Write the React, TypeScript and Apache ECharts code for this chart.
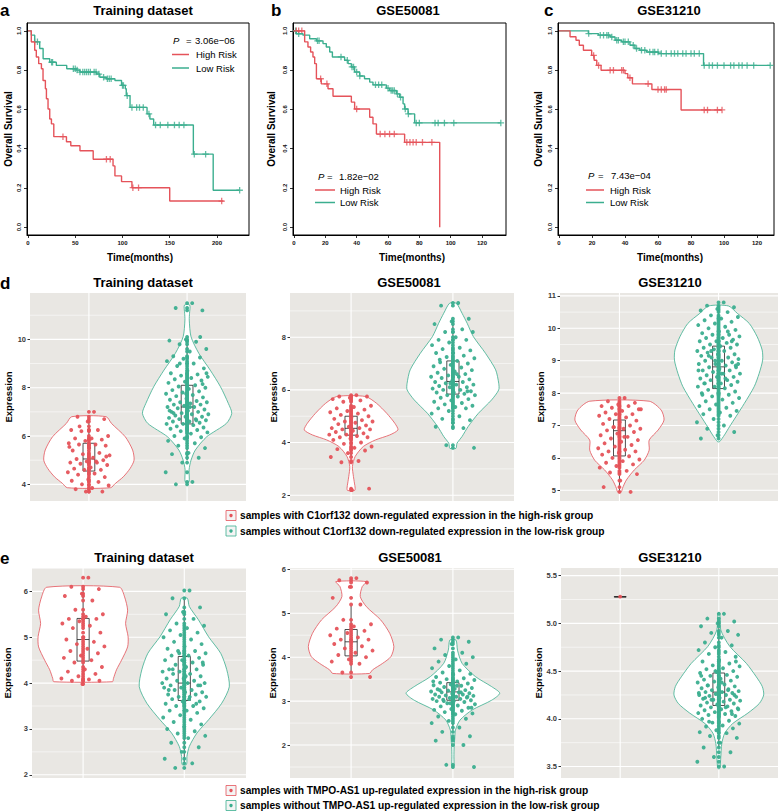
import React, { useEffect, useRef } from "react";
import * as echarts from "echarts";

const RED = "#E5535A";
const TEAL = "#3BAE8F";
const FONT = "'Liberation Sans', Arial, Helvetica, sans-serif";

// ---------------- Kaplan-Meier data (time in months, survival) ----------------
const kmTitles = ["Training dataset", "GSE50081", "GSE31210"];
const kmPValues = ["3.06e\u221206", "1.82e\u221202", "7.43e\u221204"];
const kmXTicksA = [0, 50, 100, 150, 200];
const kmXTicksBC = [0, 20, 40, 60, 80, 100, 120];
const kmYTicks = [0, 0.2, 0.4, 0.6, 0.8, 1.0];
const legendNames = ["High Risk", "Low Risk"];

const kmAHigh = [[0, 1], [3.5, 0.944], [7.1, 0.901], [8.8, 0.867], [11.3, 0.833], [14.2, 0.807], [15.9, 0.747], [18.4, 0.705], [19.5, 0.654], [21.2, 0.602], [23, 0.551], [24.8, 0.526], [27.3, 0.461], [40.7, 0.435], [45.3, 0.415], [55, 0.389], [69, 0.346], [90, 0.312], [92, 0.261], [99, 0.232], [110, 0.201], [150, 0.133], [207, 0.133]];
const kmALow = [[0, 1], [3.5, 0.978], [7.1, 0.944], [12.4, 0.91], [16, 0.858], [23, 0.84], [30, 0.824], [41, 0.807], [51, 0.8], [55, 0.79], [72.6, 0.78], [76, 0.764], [83, 0.756], [92, 0.747], [99, 0.722], [103, 0.705], [104, 0.67], [108, 0.61], [126, 0.577], [129, 0.551], [133, 0.52], [175, 0.372], [196, 0.188], [224, 0.188]];
const kmACensHigh = [7, 37, 83, 87, 111, 117, 205];
const kmACensLow = [10, 25, 26, 48, 50, 52, 55, 58, 60, 62, 64, 66, 70, 72, 75, 80, 84, 86, 88, 100, 101, 105, 110, 115, 118, 122, 128, 135, 140, 148, 155, 160, 165, 176, 188, 224];

const kmBHigh = [[0, 1], [6.8, 0.944], [8.9, 0.918], [10.6, 0.892], [12.1, 0.867], [13.2, 0.833], [14.3, 0.756], [17.4, 0.73], [21.7, 0.705], [24.9, 0.667], [36.6, 0.637], [38.7, 0.602], [48.3, 0.56], [50.4, 0.526], [52.6, 0.474], [70.6, 0.432], [93, 0.0]];
const kmBLow = [[0, 1], [1.5, 0.985], [5.7, 0.978], [10, 0.96], [14.3, 0.949], [18.5, 0.935], [20.6, 0.918], [22.8, 0.892], [24.5, 0.867], [32.3, 0.85], [34.5, 0.833], [36.6, 0.816], [38.7, 0.79], [41.9, 0.77], [45, 0.756], [48.3, 0.739], [50.4, 0.725], [58.9, 0.708], [61, 0.696], [65.3, 0.679], [67.4, 0.662], [69.6, 0.628], [70.6, 0.602], [72.8, 0.577], [77, 0.531], [132, 0.531]];
const kmBCensHigh = [1.5, 3, 5, 17, 21, 40, 55, 58, 61, 64, 72, 74, 76, 78, 82, 88];
const kmBCensLow = [1, 3, 15, 16, 30, 34, 37, 38, 40, 42, 52, 54, 56, 60, 62, 63, 64, 66, 68, 71, 73, 78, 80, 90, 92, 96, 102, 132];

const kmCHigh = [[0, 1], [6.7, 0.97], [10.3, 0.952], [12.3, 0.927], [14.8, 0.901], [19.8, 0.875], [21.3, 0.85], [22.9, 0.824], [25.5, 0.799], [40, 0.782], [41.7, 0.761], [44.5, 0.73], [56.3, 0.701], [74, 0.597], [98.8, 0.597]];
const kmCLow = [[0, 1], [17.8, 0.986], [23.9, 0.978], [31, 0.969], [34, 0.952], [38, 0.944], [43, 0.927], [46, 0.91], [49, 0.901], [53, 0.892], [60.3, 0.884], [87.6, 0.824], [128, 0.824]];
const kmCCensHigh = [21, 24, 31, 33, 38, 39, 43, 54, 60, 62, 64, 65, 88, 90, 96, 98.8];
const kmCCensLow = [18, 25, 27, 29, 30, 32, 35, 36, 39, 40, 42, 45, 47, 50, 52, 55, 57, 58, 60, 62, 65, 68, 70, 72, 75, 77, 80, 82, 85, 88, 91, 93, 96, 100, 104, 106, 109, 111, 114, 118, 128];

// ---------------- Violin data ----------------
const violinTitles = ["Training dataset", "GSE50081", "GSE31210", "Training dataset", "GSE50081", "GSE31210"];
const groupPositions = [1, 2];

// expression values per sample
const d1Red = [7.0, 6.8, 6.7, 6.6, 6.25, 6.25, 6.2, 6.0, 5.9, 5.9, 5.85, 5.8, 5.7, 5.65, 5.65, 5.6, 5.5, 5.4, 5.3, 5.25, 5.2, 5.1, 5.05, 5.0, 4.95, 4.9, 4.9, 4.85, 4.8, 4.7, 4.65, 4.6, 4.6, 4.5, 4.45, 4.4, 4.3, 4.2, 4.15, 4.1, 4.0, 3.95, 3.85, 3.8, 3.7, 3.7, 5.55, 4.95, 6.4, 5.15];
const d1Teal = [11.5, 11.3, 11.2, 10.0, 9.95, 9.9, 9.8, 9.6, 9.5, 9.3, 9.25, 9.2, 9.1, 9.0, 8.9, 8.8, 8.7, 8.6, 8.55, 8.5, 8.45, 8.4, 8.35, 8.3, 8.25, 8.2, 8.1, 8.05, 8.0, 7.95, 7.9, 7.85, 7.8, 7.75, 7.7, 7.65, 7.6, 7.55, 7.5, 7.45, 7.4, 7.4, 7.35, 7.3, 7.3, 7.25, 7.2, 7.2, 7.15, 7.1, 7.05, 7.0, 7.0, 6.95, 6.9, 6.9, 6.85, 6.8, 6.8, 6.75, 6.7, 6.7, 6.65, 6.6, 6.6, 6.55, 6.5, 6.5, 6.45, 6.4, 6.35, 6.3, 6.3, 6.25, 6.2, 6.15, 6.1, 6.0, 5.95, 5.9, 5.8, 5.7, 5.6, 5.5, 5.3, 5.25, 5.1, 4.9, 4.5, 4.1, 4.0, 8.15, 7.75, 7.05, 6.65, 9.0, 8.6, 7.2, 6.95, 10.1];
const d2Red = [5.8, 5.75, 5.75, 5.7, 5.65, 5.6, 5.55, 5.4, 5.35, 5.3, 5.25, 5.2, 5.15, 5.1, 5.05, 5.0, 4.95, 4.9, 4.85, 4.8, 4.8, 4.75, 4.7, 4.65, 4.6, 4.55, 4.55, 4.5, 4.5, 4.45, 4.4, 4.35, 4.3, 4.3, 4.25, 4.2, 4.2, 4.15, 4.1, 4.0, 3.95, 3.85, 3.8, 3.75, 3.7, 3.6, 3.45, 3.3, 3.25, 2.25, 2.2];
const d2Teal = [9.3, 9.2, 8.7, 8.6, 8.5, 8.3, 8.2, 8.2, 8.0, 7.9, 7.9, 7.8, 7.7, 7.6, 7.55, 7.5, 7.4, 7.4, 7.3, 7.25, 7.2, 7.1, 7.05, 7.0, 6.95, 6.9, 6.85, 6.8, 6.75, 6.7, 6.65, 6.6, 6.55, 6.5, 6.5, 6.45, 6.4, 6.35, 6.3, 6.3, 6.25, 6.2, 6.2, 6.15, 6.1, 6.1, 6.05, 6.0, 6.0, 5.95, 5.9, 5.9, 5.85, 5.8, 5.8, 5.75, 5.7, 5.65, 5.6, 5.55, 5.5, 5.45, 5.4, 5.35, 5.3, 5.3, 5.2, 5.1, 5.0, 4.9, 4.85, 4.75, 4.6, 4.55, 3.9, 3.8, 6.6, 7.15, 5.95, 6.25];
const d3Red = [7.85, 7.75, 7.7, 7.65, 7.6, 7.6, 7.55, 7.5, 7.45, 7.4, 7.35, 7.35, 7.3, 7.25, 7.2, 7.15, 7.1, 7.05, 7.0, 6.95, 6.9, 6.9, 6.85, 6.8, 6.75, 6.7, 6.65, 6.6, 6.55, 6.5, 6.45, 6.4, 6.35, 6.3, 6.25, 6.2, 6.2, 6.15, 6.1, 6.05, 6.0, 5.95, 5.9, 5.85, 5.8, 5.75, 5.7, 5.6, 5.55, 5.5, 5.3, 5.1, 4.95, 6.95, 7.5, 6.65];
const d3Teal = [10.8, 10.7, 10.65, 10.6, 10.55, 10.5, 10.4, 10.35, 10.3, 10.25, 10.2, 10.15, 10.1, 10.05, 10.0, 9.95, 9.9, 9.85, 9.8, 9.8, 9.75, 9.7, 9.7, 9.65, 9.6, 9.6, 9.55, 9.5, 9.5, 9.45, 9.4, 9.4, 9.35, 9.3, 9.3, 9.25, 9.2, 9.2, 9.15, 9.1, 9.1, 9.05, 9.0, 9.0, 8.95, 8.9, 8.9, 8.85, 8.8, 8.8, 8.75, 8.7, 8.7, 8.65, 8.6, 8.6, 8.55, 8.5, 8.5, 8.45, 8.4, 8.4, 8.35, 8.3, 8.3, 8.25, 8.2, 8.2, 8.15, 8.1, 8.05, 8.0, 8.0, 7.95, 7.9, 7.85, 7.8, 7.75, 7.7, 7.65, 7.6, 7.55, 7.5, 7.45, 7.4, 7.35, 7.3, 7.2, 7.1, 7.0, 6.9, 6.8, 6.7, 6.6, 9.9, 9.3, 8.9, 8.6, 8.3, 9.6, 9.0, 8.7, 8.45, 9.15, 8.85, 10.3, 7.95];
const e1Red = [6.3, 6.1, 6.05, 5.95, 5.9, 5.8, 5.6, 5.5, 5.45, 5.4, 5.4, 5.35, 5.3, 5.25, 5.2, 5.1, 5.0, 4.95, 4.9, 4.85, 4.8, 4.75, 4.7, 4.65, 4.6, 4.55, 4.5, 4.45, 4.35, 4.3, 4.25, 4.2, 4.15, 4.1, 4.08, 4.05, 4.05, 3.98];
const e1Teal = [6.02, 5.85, 5.65, 5.55, 5.5, 5.4, 5.3, 5.25, 5.2, 5.15, 5.1, 5.05, 5.0, 4.95, 4.9, 4.85, 4.8, 4.75, 4.7, 4.7, 4.65, 4.6, 4.6, 4.55, 4.5, 4.5, 4.45, 4.4, 4.4, 4.35, 4.3, 4.3, 4.25, 4.25, 4.2, 4.2, 4.15, 4.1, 4.1, 4.05, 4.05, 4.0, 4.0, 3.95, 3.95, 3.9, 3.9, 3.85, 3.85, 3.8, 3.8, 3.75, 3.75, 3.7, 3.7, 3.65, 3.65, 3.6, 3.6, 3.55, 3.5, 3.5, 3.45, 3.4, 3.4, 3.35, 3.3, 3.25, 3.2, 3.15, 3.1, 3.05, 3.0, 2.95, 2.9, 2.85, 2.8, 2.7, 2.6, 2.5, 2.35, 2.25, 2.15, 4.45, 4.15, 3.85, 3.55, 4.65, 4.0, 3.7, 4.3, 3.95];
const e2Red = [5.8, 5.75, 5.7, 5.6, 5.35, 5.2, 4.85, 4.75, 4.7, 4.65, 4.6, 4.55, 4.5, 4.45, 4.4, 4.4, 4.35, 4.3, 4.25, 4.2, 4.15, 4.1, 4.05, 4.0, 3.95, 3.9, 3.85, 3.65, 3.55];
const e2Teal = [4.45, 4.4, 4.35, 4.3, 4.2, 4.1, 4.05, 4.0, 3.95, 3.9, 3.85, 3.8, 3.75, 3.7, 3.65, 3.62, 3.6, 3.55, 3.52, 3.5, 3.48, 3.45, 3.42, 3.4, 3.38, 3.36, 3.35, 3.32, 3.3, 3.28, 3.27, 3.25, 3.24, 3.22, 3.2, 3.2, 3.18, 3.17, 3.15, 3.15, 3.13, 3.12, 3.1, 3.1, 3.08, 3.07, 3.05, 3.05, 3.03, 3.02, 3.0, 3.0, 2.98, 2.95, 2.93, 2.9, 2.88, 2.85, 2.82, 2.8, 2.78, 2.75, 2.72, 2.7, 2.65, 2.6, 2.55, 2.5, 2.4, 2.3, 2.2, 2.15, 2.1, 2.0, 1.55, 1.5, 3.35, 3.25, 3.1, 2.95, 3.45, 3.2, 3.0, 2.85];
const e3Red = [5.28];
const e3Teal = [5.1, 5.05, 5.02, 5.0, 4.97, 4.92, 4.9, 4.88, 4.85, 4.8, 4.77, 4.75, 4.72, 4.7, 4.68, 4.65, 4.62, 4.6, 4.58, 4.56, 4.55, 4.53, 4.52, 4.5, 4.49, 4.48, 4.46, 4.45, 4.44, 4.42, 4.41, 4.4, 4.39, 4.38, 4.36, 4.35, 4.34, 4.33, 4.32, 4.31, 4.3, 4.29, 4.28, 4.28, 4.27, 4.26, 4.25, 4.25, 4.24, 4.23, 4.22, 4.21, 4.2, 4.2, 4.19, 4.18, 4.17, 4.16, 4.15, 4.14, 4.13, 4.12, 4.11, 4.1, 4.09, 4.08, 4.07, 4.06, 4.05, 4.04, 4.03, 4.02, 4.0, 3.98, 3.96, 3.95, 3.93, 3.92, 3.9, 3.88, 3.86, 3.85, 3.82, 3.8, 3.75, 3.7, 3.65, 3.6, 3.55, 3.5, 4.35, 4.25, 4.15, 4.45, 4.3, 4.2, 4.1, 4.38, 4.22, 4.05, 4.5, 4.27, 4.12, 3.97, 4.6];

// violin outlines: [expression, half width]
const d1RedViolin = [[6.8, 0.175], [6.52, 0.23], [5.97, 0.37], [5.42, 0.445], [5.0, 0.46], [4.66, 0.42], [4.31, 0.35], [4.04, 0.27], [3.86, 0.22]];
const d1TealViolin = [[11.42, 0.027], [11.08, 0.025], [10.8, 0.022], [10.11, 0.04], [9.42, 0.12], [8.73, 0.235], [8.04, 0.34], [7.35, 0.42], [6.94, 0.455], [6.52, 0.4], [5.97, 0.2], [5.42, 0.084], [5.0, 0.04], [4.6, 0.02], [4.11, 0.02]];
const d2RedViolin = [[5.75, 0.14], [5.49, 0.25], [5.11, 0.35], [4.73, 0.43], [4.48, 0.46], [4.29, 0.38], [4.1, 0.24], [3.85, 0.12], [3.47, 0.04], [3.09, 0.013], [2.71, 0.023], [2.46, 0.033], [2.27, 0.04], [2.18, 0.035]];
const d2TealViolin = [[9.29, 0.033], [8.91, 0.09], [8.53, 0.14], [8.03, 0.2], [7.39, 0.32], [6.76, 0.42], [6.25, 0.45], [6.0, 0.45], [5.62, 0.38], [5.11, 0.25], [4.61, 0.15], [4.23, 0.09], [3.97, 0.04], [3.78, 0.03]];
const d3RedViolin = [[7.75, 0.3], [7.48, 0.42], [7.17, 0.45], [6.86, 0.39], [6.55, 0.3], [6.24, 0.3], [5.93, 0.25], [5.63, 0.15], [5.32, 0.07], [5.06, 0.03], [4.96, 0.02]];
const d3TealViolin = [[10.69, 0.1], [10.46, 0.19], [10.15, 0.31], [9.74, 0.39], [9.33, 0.44], [9.02, 0.445], [8.61, 0.41], [8.2, 0.36], [7.68, 0.26], [7.27, 0.175], [6.96, 0.11], [6.71, 0.06], [6.5, 0.01]];
const e1RedViolin = [[6.09, 0.36], [5.88, 0.41], [5.59, 0.44], [5.3, 0.42], [5.01, 0.445], [4.79, 0.44], [4.5, 0.38], [4.29, 0.33], [4.1, 0.3], [4.03, 0.29]];
const e1TealViolin = [[5.85, 0.03], [5.67, 0.05], [5.38, 0.14], [5.01, 0.24], [4.65, 0.36], [4.29, 0.42], [3.92, 0.445], [3.56, 0.37], [3.2, 0.24], [2.91, 0.125], [2.62, 0.05], [2.4, 0.026], [2.29, 0.026], [2.22, 0.02]];
const e2RedViolin = [[5.72, 0.15], [5.61, 0.11], [5.38, 0.09], [5.15, 0.15], [4.85, 0.29], [4.54, 0.38], [4.24, 0.42], [4.01, 0.39], [3.86, 0.31], [3.71, 0.21], [3.63, 0.18]];
const e2TealViolin = [[4.39, 0.03], [4.16, 0.045], [3.86, 0.09], [3.56, 0.22], [3.33, 0.38], [3.18, 0.46], [3.02, 0.38], [2.8, 0.19], [2.57, 0.07], [2.34, 0.025], [2.15, 0.018], [1.96, 0.012], [1.73, 0.01], [1.51, 0.01]];
const e3RedViolin: number[][] = [];
const e3TealViolin = [[5.11, 0.01], [4.93, 0.02], [4.76, 0.11], [4.58, 0.28], [4.44, 0.38], [4.34, 0.44], [4.25, 0.455], [4.16, 0.41], [4.06, 0.295], [3.95, 0.14], [3.85, 0.06], [3.74, 0.03], [3.6, 0.02], [3.48, 0.01]];

// box plot stats: [lower whisker, q1, median, q3, upper whisker]
const d1RedBox = [3.7, 4.55, 5.05, 5.7, 6.8];
const d1TealBox = [5.0, 6.5, 7.2, 8.1, 10.1];
const d2RedBox = [3.47, 4.28, 4.54, 5.0, 5.75];
const d2TealBox = [4.55, 5.84, 6.32, 7.1, 8.6];
const d3RedBox = [4.95, 6.06, 6.84, 7.17, 7.75];
const d3TealBox = [6.6, 8.14, 8.81, 9.45, 10.7];
const e1RedBox = [4.03, 4.48, 4.95, 5.41, 6.09];
const e1TealBox = [2.25, 3.62, 4.0, 4.58, 5.82];
const e2RedBox = [3.65, 4.03, 4.35, 4.63, 5.17];
const e2TealBox = [2.34, 3.02, 3.21, 3.42, 4.0];
const e3RedBox = [5.28, 5.28, 5.28, 5.28, 5.28];
const e3TealBox = [3.7, 4.14, 4.28, 4.48, 4.95];

// tick labels (major) and minor grid values
const d1Ticks = [4, 6, 8, 10];
const d1Minor = [5, 7, 9, 11];
const d2Ticks = [2, 4, 6, 8];
const d2Minor = [3, 5, 7, 9];
const d3Ticks = [5, 6, 7, 8, 9, 10, 11];
const d3Minor = [5.5, 6.5, 7.5, 8.5, 9.5, 10.5];
const e1Ticks = [2, 3, 4, 5, 6];
const e1Minor = [2.5, 3.5, 4.5, 5.5, 6.5];
const e2Ticks = [2, 3, 4, 5, 6];
const e2Minor = [1.5, 2.5, 3.5, 4.5, 5.5];
const e3Ticks = [3.5, 4.0, 4.5, 5.0, 5.5];
const e3Minor = [3.75, 4.25, 4.75, 5.25];

const legendD = [
  "samples with C1orf132 down-regulated expression in the high-risk group",
  "samples without C1orf132 down-regulated expression in the low-risk group",
];
const legendE = [
  "samples with TMPO-AS1 up-regulated expression in the high-risk group",
  "samples without TMPO-AS1 up-regulated expression in the low-risk group",
];

// ---------------- layout ----------------
const kmLayout = [
  { left: 27, top: 23, width: 222, height: 212, xMin: -1.06, xMax: 233.9 },
  { left: 293, top: 23, width: 213, height: 212, xMin: -0.64, xMax: 135.3 },
  { left: 558, top: 23, width: 216, height: 212, xMin: -0.6, xMax: 130.3 },
];
const violinLayout = [
  { left: 30, top: 293, width: 216, height: 208, xMin: 0.4, xMax: 2.6, yMin: 3.31, yMax: 11.92 },
  { left: 290, top: 293, width: 224, height: 208, xMin: 0.4, xMax: 2.6, yMin: 1.78, yMax: 9.68 },
  { left: 560, top: 293, width: 218, height: 208, xMin: 0.4, xMax: 2.6, yMin: 4.67, yMax: 11.09 },
  { left: 32, top: 568, width: 214, height: 210, xMin: 0.495, xMax: 2.61, yMin: 1.93, yMax: 6.51 },
  { left: 290, top: 568, width: 224, height: 210, xMin: 0.4, xMax: 2.6, yMin: 1.25, yMax: 6.03 },
  { left: 561, top: 568, width: 217, height: 210, xMin: 0.4, xMax: 2.6, yMin: 3.38, yMax: 5.58 },
];

const PLUS = "path://M4,0H6V4H10V6H6V10H4V6H0V4H4Z";

const survAt = (curve: number[][], t: number) => {
  let s = curve[0][1];
  for (const [ti, si] of curve) {
    if (ti <= t) s = si;
    else break;
  }
  return s;
};

const jitter = (i: number) => ((((i + 1) * 0.6180339887) % 1) - 0.5) * 0.44;

export default function App() {
  const ref = useRef<HTMLDivElement>(null);

  useEffect(() => {
    if (!ref.current) return;
    const chart = echarts.init(ref.current, null, { renderer: "svg" });

    const grids: any[] = [];
    const xAxes: any[] = [];
    const yAxes: any[] = [];
    const series: any[] = [];
    const graphics: any[] = [];

    // ---------- KM panels ----------
    const kmPanels = [
      { high: kmAHigh, low: kmALow, ch: kmACensHigh, cl: kmACensLow, xt: kmXTicksA },
      { high: kmBHigh, low: kmBLow, ch: kmBCensHigh, cl: kmBCensLow, xt: kmXTicksBC },
      { high: kmCHigh, low: kmCLow, ch: kmCCensHigh, cl: kmCCensLow, xt: kmXTicksBC },
    ];
    kmPanels.forEach((p, i) => {
      const L = kmLayout[i];
      grids.push({ left: L.left, top: L.top, width: L.width, height: L.height, show: true, borderColor: "#000", borderWidth: 1, backgroundColor: "#fff" });
      xAxes.push({
        type: "value", gridIndex: i, min: L.xMin, max: L.xMax,
        axisLine: { show: true, onZero: false, lineStyle: { color: "#000", width: 1 } },
        axisTick: { show: true, customValues: p.xt, length: 3, lineStyle: { color: "#000", width: 0.8 } },
        axisLabel: { customValues: p.xt, fontSize: 6, fontWeight: "bold", color: "#111", margin: 5, fontFamily: FONT },
        splitLine: { show: false },
      });
      yAxes.push({
        type: "value", gridIndex: i, min: -0.04, max: 1.04,
        axisLine: { show: true, onZero: false, lineStyle: { color: "#000", width: 1 } },
        axisTick: { show: true, customValues: kmYTicks, length: 3, lineStyle: { color: "#000", width: 0.8 } },
        axisLabel: { customValues: kmYTicks, rotate: 90, fontSize: 6, fontWeight: "bold", color: "#111", margin: 5, fontFamily: FONT, formatter: (v: number) => v.toFixed(1) },
        splitLine: { show: false },
      });
      [[p.low, p.cl, TEAL], [p.high, p.ch, RED]].forEach(([curve, cens, color]: any) => {
        series.push({
          type: "line", xAxisIndex: i, yAxisIndex: i, data: curve, step: "end", symbol: "none", silent: true,
          lineStyle: { color, width: 1.4 },
        });
        series.push({
          type: "scatter", xAxisIndex: i, yAxisIndex: i, silent: true, symbol: PLUS, symbolSize: 6.5,
          data: cens.map((t: number) => [t, survAt(curve, t)]), itemStyle: { color },
        });
      });
    });

    // ---------- violin panels ----------
    const vPanels = [
      { red: d1Red, teal: d1Teal, rv: d1RedViolin, tv: d1TealViolin, rb: d1RedBox, tb: d1TealBox, ticks: d1Ticks, minor: d1Minor },
      { red: d2Red, teal: d2Teal, rv: d2RedViolin, tv: d2TealViolin, rb: d2RedBox, tb: d2TealBox, ticks: d2Ticks, minor: d2Minor },
      { red: d3Red, teal: d3Teal, rv: d3RedViolin, tv: d3TealViolin, rb: d3RedBox, tb: d3TealBox, ticks: d3Ticks, minor: d3Minor },
      { red: e1Red, teal: e1Teal, rv: e1RedViolin, tv: e1TealViolin, rb: e1RedBox, tb: e1TealBox, ticks: e1Ticks, minor: e1Minor },
      { red: e2Red, teal: e2Teal, rv: e2RedViolin, tv: e2TealViolin, rb: e2RedBox, tb: e2TealBox, ticks: e2Ticks, minor: e2Minor },
      { red: e3Red, teal: e3Teal, rv: e3RedViolin, tv: e3TealViolin, rb: e3RedBox, tb: e3TealBox, ticks: e3Ticks, minor: e3Minor },
    ];
    vPanels.forEach((p, k) => {
      const gi = k + 3;
      const L = violinLayout[k];
      const decimals = k === 5 ? 1 : 0;
      grids.push({ left: L.left, top: L.top, width: L.width, height: L.height, show: true, backgroundColor: "#E9E7E3", borderWidth: 0 });
      xAxes.push({ type: "value", gridIndex: gi, min: L.xMin, max: L.xMax, show: false });
      yAxes.push({
        type: "value", gridIndex: gi, min: L.yMin, max: L.yMax,
        axisLine: { show: false },
        axisTick: { show: true, customValues: p.ticks, length: 2.5, lineStyle: { color: "#333", width: 1 } },
        axisLabel: { customValues: p.ticks, fontSize: 7.5, fontWeight: "bold", color: "#3A3A3A", margin: 4, fontFamily: FONT, formatter: (v: number) => v.toFixed(decimals) },
        splitLine: { show: false },
      });
      // grid lines
      series.push({
        type: "custom", xAxisIndex: gi, yAxisIndex: gi, silent: true, data: [[L.xMin, L.yMin]],
        renderItem: (params: any, api: any) => {
          const children: any[] = [];
          p.minor.forEach((v) => {
            if (v < L.yMin || v > L.yMax) return;
            const a = api.coord([L.xMin, v]);
            const b = api.coord([L.xMax, v]);
            children.push({ type: "line", shape: { x1: a[0], y1: a[1], x2: b[0], y2: b[1] }, style: { stroke: "#fff", lineWidth: 0.55 } });
          });
          p.ticks.forEach((v) => {
            const a = api.coord([L.xMin, v]);
            const b = api.coord([L.xMax, v]);
            children.push({ type: "line", shape: { x1: a[0], y1: a[1], x2: b[0], y2: b[1] }, style: { stroke: "#fff", lineWidth: 1.1 } });
          });
          groupPositions.forEach((x) => {
            const a = api.coord([x, L.yMin]);
            const b = api.coord([x, L.yMax]);
            children.push({ type: "line", shape: { x1: a[0], y1: a[1], x2: b[0], y2: b[1] }, style: { stroke: "#fff", lineWidth: 1.1 } });
          });
          return { type: "group", children };
        },
      });
      // violins
      [[p.rv, RED, groupPositions[0]], [p.tv, TEAL, groupPositions[1]]].forEach(([shape, color, cx]: any) => {
        if (!shape.length) return;
        series.push({
          type: "custom", xAxisIndex: gi, yAxisIndex: gi, silent: true, data: [[cx, shape[0][0]]],
          renderItem: (params: any, api: any) => {
            const pts: number[][] = [];
            shape.forEach(([y, w]: number[]) => pts.push(api.coord([cx - w, y])));
            for (let i = shape.length - 1; i >= 0; i--) pts.push(api.coord([cx + shape[i][1], shape[i][0]]));
            return { type: "polygon", shape: { points: pts, smooth: 0.25 }, style: { fill: "#fff", stroke: color, lineWidth: 0.8 } };
          },
        });
      });
      // boxes
      [[p.rb, groupPositions[0]], [p.tb, groupPositions[1]]].forEach(([box, cx]: any) => {
        series.push({
          type: "custom", xAxisIndex: gi, yAxisIndex: gi, silent: true, data: [[cx, box[2]]],
          renderItem: (params: any, api: any) => {
            const hw = 0.06;
            const [lo, q1, med, q3, hi] = box;
            const c = (x: number, y: number) => api.coord([x, y]);
            const tl = c(cx - hw, q3);
            const br = c(cx + hw, q1);
            const st = { stroke: "#222", lineWidth: 0.8, fill: "none" };
            const line = (x1: number, y1: number, x2: number, y2: number) => {
              const a = c(x1, y1), b = c(x2, y2);
              return { type: "line", shape: { x1: a[0], y1: a[1], x2: b[0], y2: b[1] }, style: { stroke: "#222", lineWidth: 0.8 } };
            };
            return {
              type: "group",
              children: [
                line(cx, hi, cx, q3),
                line(cx, q1, cx, lo),
                { type: "rect", shape: { x: tl[0], y: tl[1], width: br[0] - tl[0], height: Math.max(0.5, br[1] - tl[1]) }, style: st },
                line(cx - hw, med, cx + hw, med),
              ],
            };
          },
        });
      });
      // points
      [[p.red, RED, groupPositions[0]], [p.teal, TEAL, groupPositions[1]]].forEach(([vals, color, cx]: any) => {
        const pts: number[][] = vals.map((v: number) => [cx, v]);
        if (vals.length > 1) vals.forEach((v: number, i: number) => pts.push([cx + jitter(i), v]));
        series.push({
          type: "scatter", xAxisIndex: gi, yAxisIndex: gi, silent: true, symbolSize: 3.9,
          data: pts, itemStyle: { color, opacity: 0.95 },
        });
      });
    });

    // ---------- text & legends (graphic) ----------
    const txt = (x: number, y: number, text: string, o: any = {}) => ({
      type: "text", x, y, rotation: o.rotation || 0, silent: true,
      style: {
        text, fill: o.color || "#000", fontSize: o.size || 10, fontWeight: o.weight || "normal",
        fontStyle: o.style || "normal", fontFamily: FONT,
        textAlign: o.align || "left", textVerticalAlign: "middle",
      },
    });
    // panel letters
    [["a", 0, 10], ["b", 271, 10], ["c", 544, 10], ["d", 0, 283], ["e", 0, 558]].forEach(([t, x, y]: any) =>
      graphics.push(txt(x, y, t, { size: 17, weight: "bold" }))
    );
    // KM titles, axis titles, legends
    const kmTitleX = [143, 408, 669];
    const kmTimeX = [140, 412, 670];
    const kmYTitleX = [8.5, 271, 538];
    const kmLegendP = [[173, 186, 195, 40.5], [318, 327, 339, 176], [588, 598, 611, 175]];
    const kmLegendL = [[172, 189, 196, 54.5, 68], [315, 335, 340, 190, 202.5], [586, 604, 610, 190, 202.5]];
    kmTitles.forEach((t, i) => {
      graphics.push(txt(kmTitleX[i], 10, t, { size: 13, weight: "bold", align: "center" }));
      graphics.push(txt(kmTimeX[i], 257, "Time(months)", { size: 10, weight: "bold", align: "center" }));
      graphics.push(txt(kmYTitleX[i], 129, "Overall Survival", { size: 10, weight: "bold", align: "center", rotation: Math.PI / 2 }));
      const [px, ex, nx, py] = kmLegendP[i];
      graphics.push(txt(px, py, "P", { size: 9.5, style: "italic" }));
      graphics.push(txt(ex, py, "=", { size: 9.5 }));
      graphics.push(txt(nx, py, kmPValues[i], { size: 9.5 }));
      const [l1, l2, tx, y1, y2] = kmLegendL[i];
      [[y1, RED, legendNames[0]], [y2, TEAL, legendNames[1]]].forEach(([y, color, name]: any) => {
        graphics.push({ type: "line", silent: true, shape: { x1: l1, y1: y, x2: l2, y2: y }, style: { stroke: color, lineWidth: 1.5 } });
        graphics.push(txt(tx, y, name, { size: 9.5 }));
      });
    });
    // violin titles
    const vTitleX = [143, 409, 670, 144, 410, 670];
    const vExprX = [8.5, 273, 540, 7.5, 272, 538];
    violinTitles.forEach((t, k) => {
      const L = violinLayout[k];
      const rowY = k < 3 ? 282 : 557;
      graphics.push(txt(vTitleX[k], rowY, t, { size: 13, weight: "bold", align: "center" }));
      graphics.push(txt(vExprX[k], L.top + L.height / 2, "Expression", { size: 9.5, weight: "bold", align: "center", rotation: Math.PI / 2 }));
    });
    // bottom legends
    const legendRows = [[legendD, 515.5, 531], [legendE, 790.5, 805.5]];
    legendRows.forEach(([labels, ya, yb]: any) => {
      [[labels[0], ya, RED], [labels[1], yb, TEAL]].forEach(([label, y, color]: any) => {
        graphics.push({ type: "rect", silent: true, shape: { x: 226, y: y - 5, width: 10, height: 10 }, style: { fill: "#F4F4F4", stroke: color, lineWidth: 0.8 } });
        graphics.push({ type: "circle", silent: true, shape: { cx: 231, cy: y, r: 1.7 }, style: { fill: color } });
        graphics.push(txt(240, y, label, { size: 10.2, weight: "bold" }));
      });
    });

    chart.setOption({
      animation: false,
      backgroundColor: "#fff",
      grid: grids,
      xAxis: xAxes,
      yAxis: yAxes,
      series,
      graphic: graphics,
    });
    return () => chart.dispose();
  }, []);

  return <div ref={ref} style={{ position: "absolute", left: 0, top: 0, width: 778, height: 812 }} />;
}
